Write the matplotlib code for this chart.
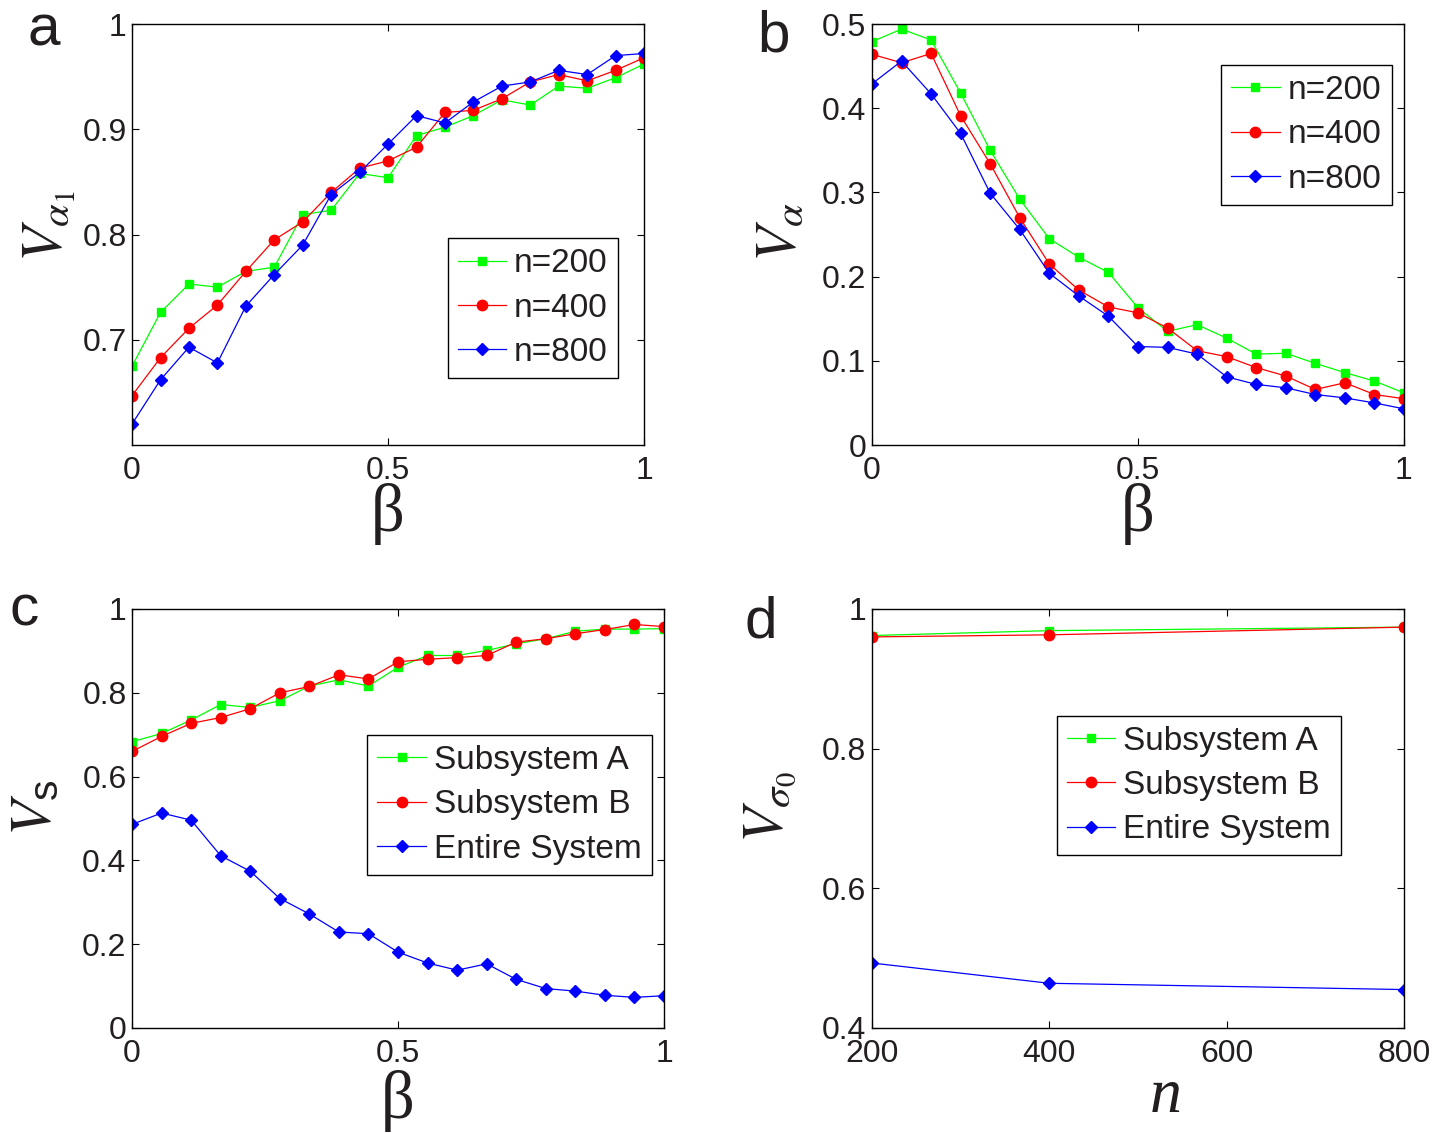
import matplotlib
matplotlib.use("Agg")
import matplotlib.pyplot as plt
import numpy as np

plt.rcParams["font.family"] = ["Liberation Sans", "DejaVu Sans"]
plt.rcParams["mathtext.fontset"] = "stix"

INK = "#231f20"

# beta sweep, 19 steps from 0 to 1
beta = np.linspace(0, 1, 19)

# panel a: V_alpha1 vs beta
va1_n200 = [0.675, 0.726, 0.753, 0.750, 0.765, 0.769, 0.819, 0.823, 0.858, 0.854,
            0.894, 0.902, 0.913, 0.928, 0.923, 0.941, 0.939, 0.949, 0.962]
va1_n400 = [0.647, 0.683, 0.711, 0.733, 0.765, 0.795, 0.812, 0.840, 0.863, 0.870,
            0.883, 0.916, 0.918, 0.929, 0.945, 0.952, 0.946, 0.956, 0.968]
va1_n800 = [0.620, 0.662, 0.693, 0.678, 0.732, 0.762, 0.790, 0.838, 0.859, 0.886,
            0.913, 0.906, 0.926, 0.941, 0.945, 0.956, 0.952, 0.970, 0.972]

# panel b: V_alpha vs beta
va_n200 = [0.479, 0.494, 0.481, 0.418, 0.350, 0.292, 0.245, 0.223, 0.205, 0.163,
           0.135, 0.143, 0.127, 0.108, 0.109, 0.097, 0.086, 0.076, 0.062]
va_n400 = [0.464, 0.454, 0.465, 0.391, 0.334, 0.270, 0.215, 0.184, 0.164, 0.157,
           0.139, 0.112, 0.105, 0.092, 0.082, 0.066, 0.074, 0.060, 0.055]
va_n800 = [0.429, 0.456, 0.417, 0.370, 0.299, 0.256, 0.204, 0.177, 0.153, 0.117,
           0.116, 0.108, 0.081, 0.072, 0.068, 0.060, 0.056, 0.050, 0.043]

# panel c: V_s vs beta
vs_a = [0.683, 0.703, 0.735, 0.772, 0.765, 0.781, 0.816, 0.831, 0.816, 0.861,
        0.889, 0.889, 0.901, 0.917, 0.929, 0.947, 0.952, 0.952, 0.953]
vs_b = [0.660, 0.696, 0.727, 0.741, 0.762, 0.800, 0.815, 0.843, 0.833, 0.874,
        0.880, 0.884, 0.889, 0.921, 0.929, 0.941, 0.951, 0.963, 0.958]
vs_all = [0.486, 0.513, 0.496, 0.411, 0.374, 0.309, 0.272, 0.229, 0.225, 0.181,
          0.155, 0.138, 0.153, 0.116, 0.094, 0.088, 0.078, 0.073, 0.077]

# panel d: V_sigma0 vs n
n_sizes = [200, 400, 800]
vsig_a = [0.962, 0.969, 0.974]
vsig_b = [0.960, 0.963, 0.974]
vsig_all = [0.493, 0.464, 0.455]

green, red, blue = "#00ff00", "#ff0000", "#0000ff"
styles = [dict(color=green, marker="s", ms=6),
          dict(color=red, marker="o", ms=7.5),
          dict(color=blue, marker="D", ms=6.5)]


def style_axis(ax, xlim, ylim, xticks, xlabels, yticks, ylabels):
    ax.set_xlim(*xlim)
    ax.set_ylim(*ylim)
    ax.set_xticks(xticks)
    ax.set_xticklabels(xlabels)
    ax.set_yticks(yticks)
    ax.set_yticklabels(ylabels)
    ax.tick_params(direction="in", top=True, right=True, length=5, width=0.8,
                   labelsize=23, labelcolor=INK)
    ax.tick_params(axis="x", pad=8)
    ax.tick_params(axis="y", pad=4)
    for s in ax.spines.values():
        s.set_linewidth(1.0)


def draw(ax, x, series, labels, anchor, loc):
    for ys, lab, st in zip(series, labels, styles):
        ax.plot(x, ys, color=st["color"], lw=0.9, marker=st["marker"],
                ms=st["ms"], mec=st["color"], label=lab)
    leg = ax.legend(loc=loc, bbox_to_anchor=anchor, borderaxespad=0,
                    fontsize=24, fancybox=False, framealpha=1,
                    edgecolor="black", handlelength=1.45, handletextpad=0.25,
                    labelspacing=0.4, borderpad=0.3)
    leg.get_frame().set_linewidth(1.0)
    for t in leg.get_texts():
        t.set_color(INK)


fig = plt.figure(figsize=(14.48, 11.33), dpi=100)
ax_a = fig.add_axes([0.0912, 0.6072, 0.3536, 0.3716])
ax_b = fig.add_axes([0.6022, 0.6072, 0.3674, 0.3716])
ax_c = fig.add_axes([0.0912, 0.0927, 0.3674, 0.3698])
ax_d = fig.add_axes([0.6022, 0.0927, 0.3674, 0.3698])

n_labels = ["n=200", "n=400", "n=800"]
sys_labels = ["Subsystem A", "Subsystem B", "Entire System"]

draw(ax_a, beta, [va1_n200, va1_n400, va1_n800], n_labels, (0.949, 0.159), "lower right")
style_axis(ax_a, (0, 1), (0.6, 1), [0, 0.5, 1], ["0", "0.5", "1"],
           [0.7, 0.8, 0.9, 1.0], ["0.7", "0.8", "0.9", "1"])

draw(ax_b, beta, [va_n200, va_n400, va_n800], n_labels, (0.977, 0.903), "upper right")
style_axis(ax_b, (0, 1), (0, 0.5), [0, 0.5, 1], ["0", "0.5", "1"],
           np.arange(0, 0.51, 0.1), ["0", "0.1", "0.2", "0.3", "0.4", "0.5"])

draw(ax_c, beta, [vs_a, vs_b, vs_all], sys_labels, (0.977, 0.699), "upper right")
style_axis(ax_c, (0, 1), (0, 1), [0, 0.5, 1], ["0", "0.5", "1"],
           np.arange(0, 1.01, 0.2), ["0", "0.2", "0.4", "0.6", "0.8", "1"])

draw(ax_d, n_sizes, [vsig_a, vsig_b, vsig_all], sys_labels, (0.882, 0.745), "upper right")
style_axis(ax_d, (200, 800), (0.4, 1), [200, 400, 600, 800],
           ["200", "400", "600", "800"],
           [0.4, 0.6, 0.8, 1.0], ["0.4", "0.6", "0.8", "1"])

# axis titles
ylab_kw = dict(fontsize=42, color=INK)
ax_a.set_ylabel(r"$V_{\alpha_1}$", **ylab_kw)
ax_a.yaxis.set_label_coords(-0.105, 0.52)
ax_b.set_ylabel(r"$V_{\alpha}$", **ylab_kw)
ax_b.yaxis.set_label_coords(-0.12, 0.506)
ax_c.set_ylabel(r"$V_{\mathregular{s}}$", **ylab_kw)
ax_c.yaxis.set_label_coords(-0.13, 0.525)
ax_d.set_ylabel(r"$V_{\sigma_0}$", **ylab_kw)
ax_d.yaxis.set_label_coords(-0.14, 0.527)

beta_kw = dict(fontsize=48, color=INK, family="Liberation Serif")
ax_a.set_xlabel("β", **beta_kw)
ax_a.xaxis.set_label_coords(0.5, -0.09)
ax_b.set_xlabel("β", **beta_kw)
ax_b.xaxis.set_label_coords(0.5, -0.09)
ax_c.set_xlabel("β", **beta_kw)
ax_c.xaxis.set_label_coords(0.5, -0.1)
ax_d.set_xlabel("n", fontsize=46, color=INK, family="Liberation Serif",
                style="italic", va="baseline")
ax_d.xaxis.set_label_coords(0.553, -0.2)

# panel letters
for (x, y), letter in zip([(27, 45), (757, 52), (10, 625), (745, 637)], "abcd"):
    fig.text(x / 1448, 1 - y / 1133, letter, fontsize=42, color=INK,
             ha="left", va="baseline")

fig.savefig("out.png", dpi=100)
